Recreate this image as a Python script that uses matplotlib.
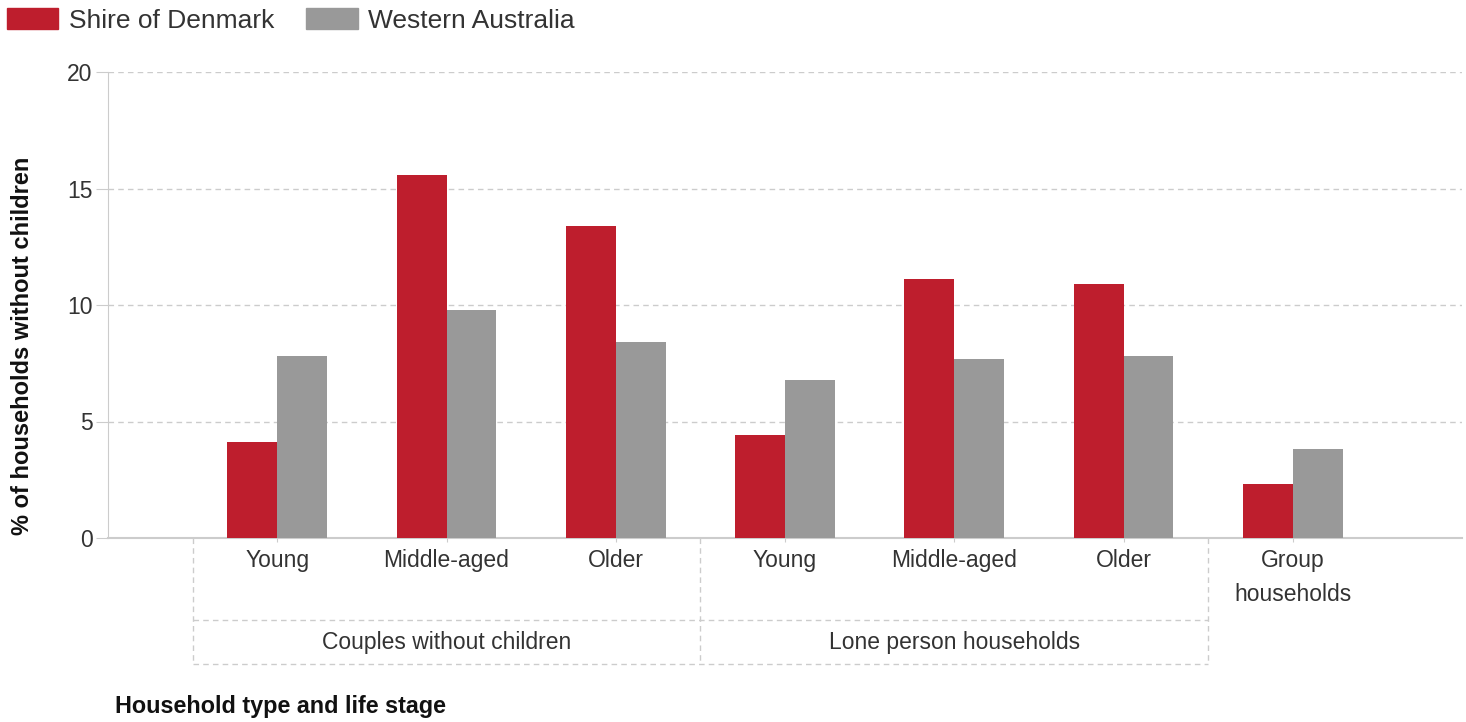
import matplotlib
matplotlib.use("Agg")
import matplotlib.pyplot as plt
from matplotlib.patches import Patch
import numpy as np

plt.rcParams['font.family'] = ['Liberation Sans', 'DejaVu Sans']

# data
stages = ["Young", "Middle-aged", "Older", "Young", "Middle-aged", "Older",
          "Group\nhouseholds"]
groups = ["Couples without children", "Lone person households"]
group_spans = [(0, 2), (3, 5)]
denmark = [4.1, 15.6, 13.4, 4.4, 11.1, 10.9, 2.3]
western_australia = [7.8, 9.8, 8.4, 6.8, 7.7, 7.8, 3.8]
series_names = ["Shire of Denmark", "Western Australia"]
yticks = [0, 5, 10, 15, 20]

RED = "#BE1E2D"
GREY = "#999999"
TEXT = "#333333"
LINE = "#cccccc"
FS = 16.5

W, H = 1466, 722
fig = plt.figure(figsize=(W / 100, H / 100), dpi=100)
ax = fig.add_axes([108 / W, (H - 538) / H, 1354 / W, 466 / H])

x = np.arange(len(stages))
bw = 0.295
ax.bar(x - bw / 2, denmark, bw, color=RED, linewidth=0, zorder=3)
ax.bar(x + bw / 2, western_australia, bw, color=GREY, linewidth=0, zorder=3)

ax.set_xlim(-1, 7)
ax.set_ylim(0, 20)
ax.set_yticks(yticks)
ax.yaxis.grid(True, color=LINE, linestyle=(0, (4, 3)), linewidth=1, zorder=0)
ax.set_axisbelow(True)

for s in ["top", "right"]:
    ax.spines[s].set_visible(False)
ax.spines["left"].set_color(LINE)
ax.spines["bottom"].set_color(LINE)
ax.spines["bottom"].set_linewidth(1.5)

ax.tick_params(axis="y", length=9, color=LINE, pad=2, labelsize=FS, labelcolor=TEXT)
ax.set_xticks(x)
ax.set_xticklabels(stages, linespacing=1.6)
ax.tick_params(axis="x", length=3, color=LINE, pad=5, labelsize=FS, labelcolor=TEXT)

# second level of the category axis: dashed boxes under the groups
tr = ax.get_xaxis_transform()
y_mid = -(620 - 538) / 466
y_bot = -(664 - 538) / 466
for xv in [-0.5, 2.5, 5.5]:
    ax.plot([xv, xv], [0, y_bot], transform=tr, color=LINE, lw=1,
            linestyle=(0, (4, 3)), clip_on=False)
for yv in [y_mid, y_bot]:
    ax.plot([-0.5, 5.5], [yv, yv], transform=tr, color=LINE, lw=1,
            linestyle=(0, (4, 3)), clip_on=False)
for name, (a, b) in zip(groups, group_spans):
    ax.text((a + b) / 2, -(649 - 538) / 466, name, transform=tr, ha="center",
            va="baseline", fontsize=FS, color=TEXT)

fig.text(23 / W, 1 - 346 / H, "% of households without children", rotation=90,
         ha="center", va="center", fontsize=17, fontweight="bold", color="#111111")
fig.text(115 / W, 1 - 706 / H, "Household type and life stage", ha="left",
         va="center", fontsize=16.8, fontweight="bold", color="#111111")

handles = [Patch(color=RED), Patch(color=GREY)]
fig.legend(handles, series_names, loc="upper left", bbox_to_anchor=(7 / W, 1 - 8 / H),
           ncol=2, frameon=False, fontsize=19, handlelength=1.95, handleheight=0.85,
           handletextpad=0.4, columnspacing=1.2, borderpad=0, borderaxespad=0,
           labelcolor=TEXT)

fig.savefig("out.png", dpi=100)
